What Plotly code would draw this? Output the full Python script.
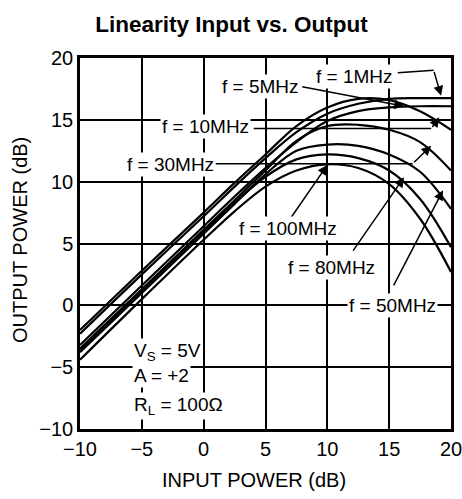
import plotly.graph_objects as go

# input power (dB) sample points
input_db = [-10, -5, 0, 2.5, 5, 7.5, 10, 12.5, 15, 17.5, 20]

# output power (dB) for each test frequency
out_1mhz = [-2.3, 2.5, 7.2, 9.6, 11.9, 14.0, 15.5, 16.3, 16.7, 16.75, 16.75]
out_5mhz = [-3.2, 1.6, 6.4, 8.8, 11.1, 13.2, 14.9, 15.7, 16.0, 16.1, 16.1]
out_10mhz = [-2.0, 2.8, 7.5, 9.9, 12.2, 14.5, 16.0, 16.7, 16.6, 15.7, 14.2]
out_30mhz = [-3.5, 1.3, 6.1, 8.5, 10.9, 13.3, 14.5, 14.6, 14.2, 13.2, 10.9]
out_50mhz = [-3.8, 1.0, 5.8, 8.2, 10.6, 12.5, 13.0, 12.9, 12.2, 10.8, 7.8]
out_80mhz = [-3.6, 1.2, 6.0, 8.3, 10.4, 11.8, 12.2, 11.9, 10.9, 8.6, 4.7]
out_100mhz = [-4.4, 0.5, 5.3, 7.6, 9.6, 10.9, 11.4, 11.1, 9.8, 7.0, 2.7]

series = [out_1mhz, out_5mhz, out_10mhz, out_30mhz, out_50mhz, out_80mhz, out_100mhz]
freq_labels = ["f = 1MHz", "f = 5MHz", "f = 10MHz", "f = 30MHz",
               "f = 50MHz", "f = 80MHz", "f = 100MHz"]

FONT = "Liberation Sans, Arial, Helvetica, sans-serif"

fig = go.Figure()
for ys, name in zip(series, freq_labels):
    fig.add_trace(go.Scatter(x=input_db, y=ys, mode="lines", name=name,
                             line=dict(color="black", width=2.2, shape="spline", smoothing=1.0),
                             showlegend=False, hoverinfo="skip"))

# label text position, leader polyline (list of points), arrow tip
callouts = [
    ("f = 1MHz", (12.2, 18.5), [(15.7, 18.8), (18.6, 19.0)], (19.2, 16.95)),
    ("f = 5MHz", (4.6, 17.7), [(7.85, 17.7)], (16.2, 16.1)),
    ("f = 10MHz", (0.15, 14.45), [(4.05, 14.3), (18.4, 14.3)], (19.05, 15.2)),
    ("f = 30MHz", (-2.7, 11.35), [(0.95, 11.45), (16.9, 11.45)], (18.4, 12.9)),
    ("f = 100MHz", (6.8, 6.2), [(7.0, 7.0)], (10.0, 11.35)),
    ("f = 80MHz", (10.3, 3.1), [(12.0, 4.3)], (16.2, 10.35)),
    ("f = 50MHz", (15.3, 0.0), [(15.3, 1.5)], (19.35, 9.3)),
]

shapes = []
annotations = []
for text, (tx, ty), pts, (hx, hy) in callouts:
    for (x0, y0), (x1, y1) in zip(pts[:-1], pts[1:]):
        shapes.append(dict(type="line", xref="x", yref="y", x0=x0, y0=y0, x1=x1, y1=y1,
                           line=dict(color="black", width=1.5)))
    ax, ay = pts[-1]
    annotations.append(dict(x=hx, y=hy, ax=ax, ay=ay, xref="x", yref="y", axref="x", ayref="y",
                            text="", showarrow=True, arrowhead=2, arrowsize=1.3,
                            arrowwidth=1.5, arrowcolor="black"))
    annotations.append(dict(x=tx, y=ty, xref="x", yref="y", text=text, showarrow=False,
                            bgcolor="white", borderpad=1,
                            font=dict(family=FONT, size=19, color="black")))

# test conditions block
for txt, yy in [("V<sub>S</sub> = 5V", -3.8), ("A = +2", -5.7), ("R<sub>L</sub> = 100Ω", -8.1)]:
    annotations.append(dict(x=-5.8, y=yy, xref="x", yref="y", text=txt, showarrow=False,
                            xanchor="left", bgcolor="white", borderpad=1,
                            font=dict(family=FONT, size=19, color="black")))

# axis titles placed as paper annotations
annotations.append(dict(x=0.469, y=-0.137, xref="paper", yref="paper", text="INPUT POWER (dB)",
                        showarrow=False, xanchor="center", yanchor="middle",
                        font=dict(family=FONT, size=20, color="black")))
annotations.append(dict(x=-0.162, y=0.509, xref="paper", yref="paper", text="OUTPUT POWER (dB)",
                        showarrow=False, xanchor="center", yanchor="middle", textangle=-90,
                        font=dict(family=FONT, size=20, color="black")))

axis_common = dict(range=[-10, 20], dtick=5, tick0=-10, showgrid=True, gridcolor="black",
                   gridwidth=1.5, zeroline=True, zerolinecolor="black", zerolinewidth=1.5,
                   showline=True, linecolor="black", linewidth=2.5, mirror=True,
                   ticks="", automargin=False, ticklabeloverflow="allow",
                   tickfont=dict(family=FONT, size=20, color="black"))

fig.update_layout(
    width=462, height=499,
    margin=dict(l=80, r=11, t=58, b=70),
    paper_bgcolor="white", plot_bgcolor="white",
    title=dict(text="<b>Linearity Input vs. Output</b>", x=0.501, xanchor="center",
               y=0.952, yanchor="middle",
               font=dict(family=FONT, size=22.5, color="black")),
    xaxis=axis_common,
    yaxis=axis_common,
    shapes=shapes,
    annotations=annotations,
)

# drop the default 8px body margin so the figure fills the window exactly
fig.write_html("out.html", config={"displayModeBar": False},
               post_script="document.body.style.margin='0';")
